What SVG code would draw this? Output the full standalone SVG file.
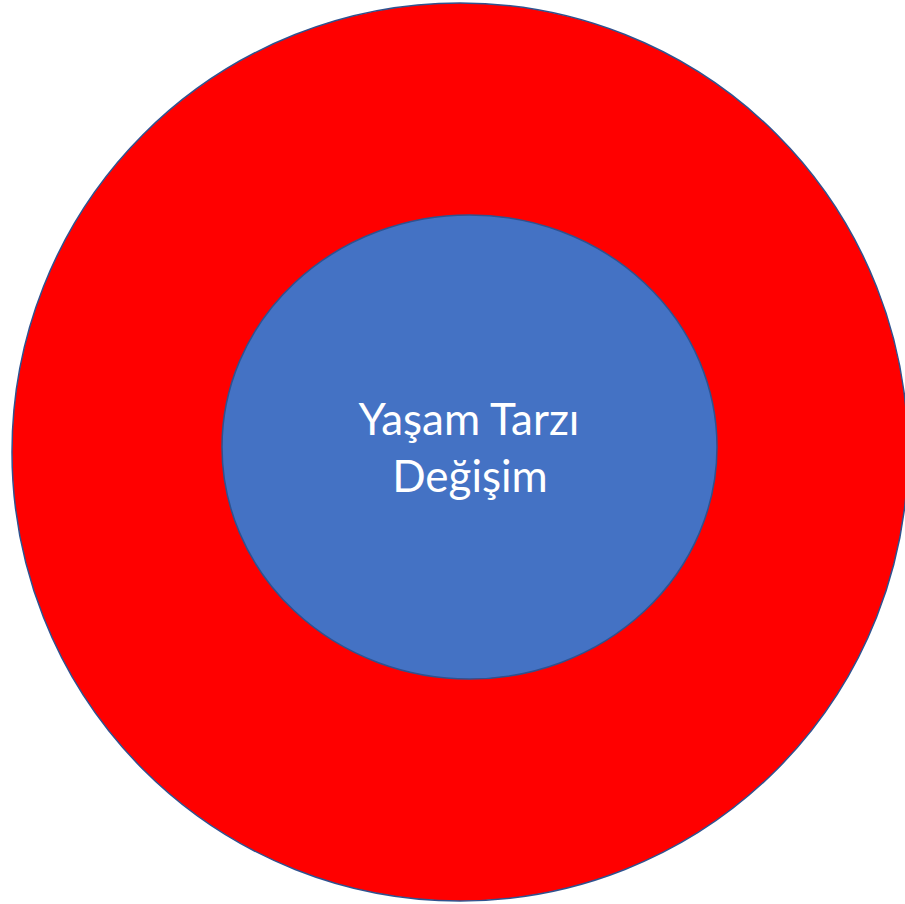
<svg xmlns="http://www.w3.org/2000/svg" width="905" height="904" viewBox="0 0 905 904">
<style>
.ring{stroke:#2F528F;stroke-width:1.5}
.lbl{font-family:Lato,"Open Sans","Liberation Sans",sans-serif;font-size:44px;fill:#FFFFFF;text-anchor:middle}
</style>
<rect width="905" height="904" fill="#FFFFFF"/>
<g id="outer">
<ellipse class="ring" cx="460" cy="452" rx="448" ry="449" fill="#FF0000"/>
</g>
<g id="inner">
<ellipse class="ring" cx="469.5" cy="447" rx="247.5" ry="232" fill="#4472C4"/>
<text class="lbl" x="469" y="435">Yaşam Tarzı</text>
<text class="lbl" x="470" y="492">Değişim</text>
</g>
<g id="connectors"/>
</svg>
